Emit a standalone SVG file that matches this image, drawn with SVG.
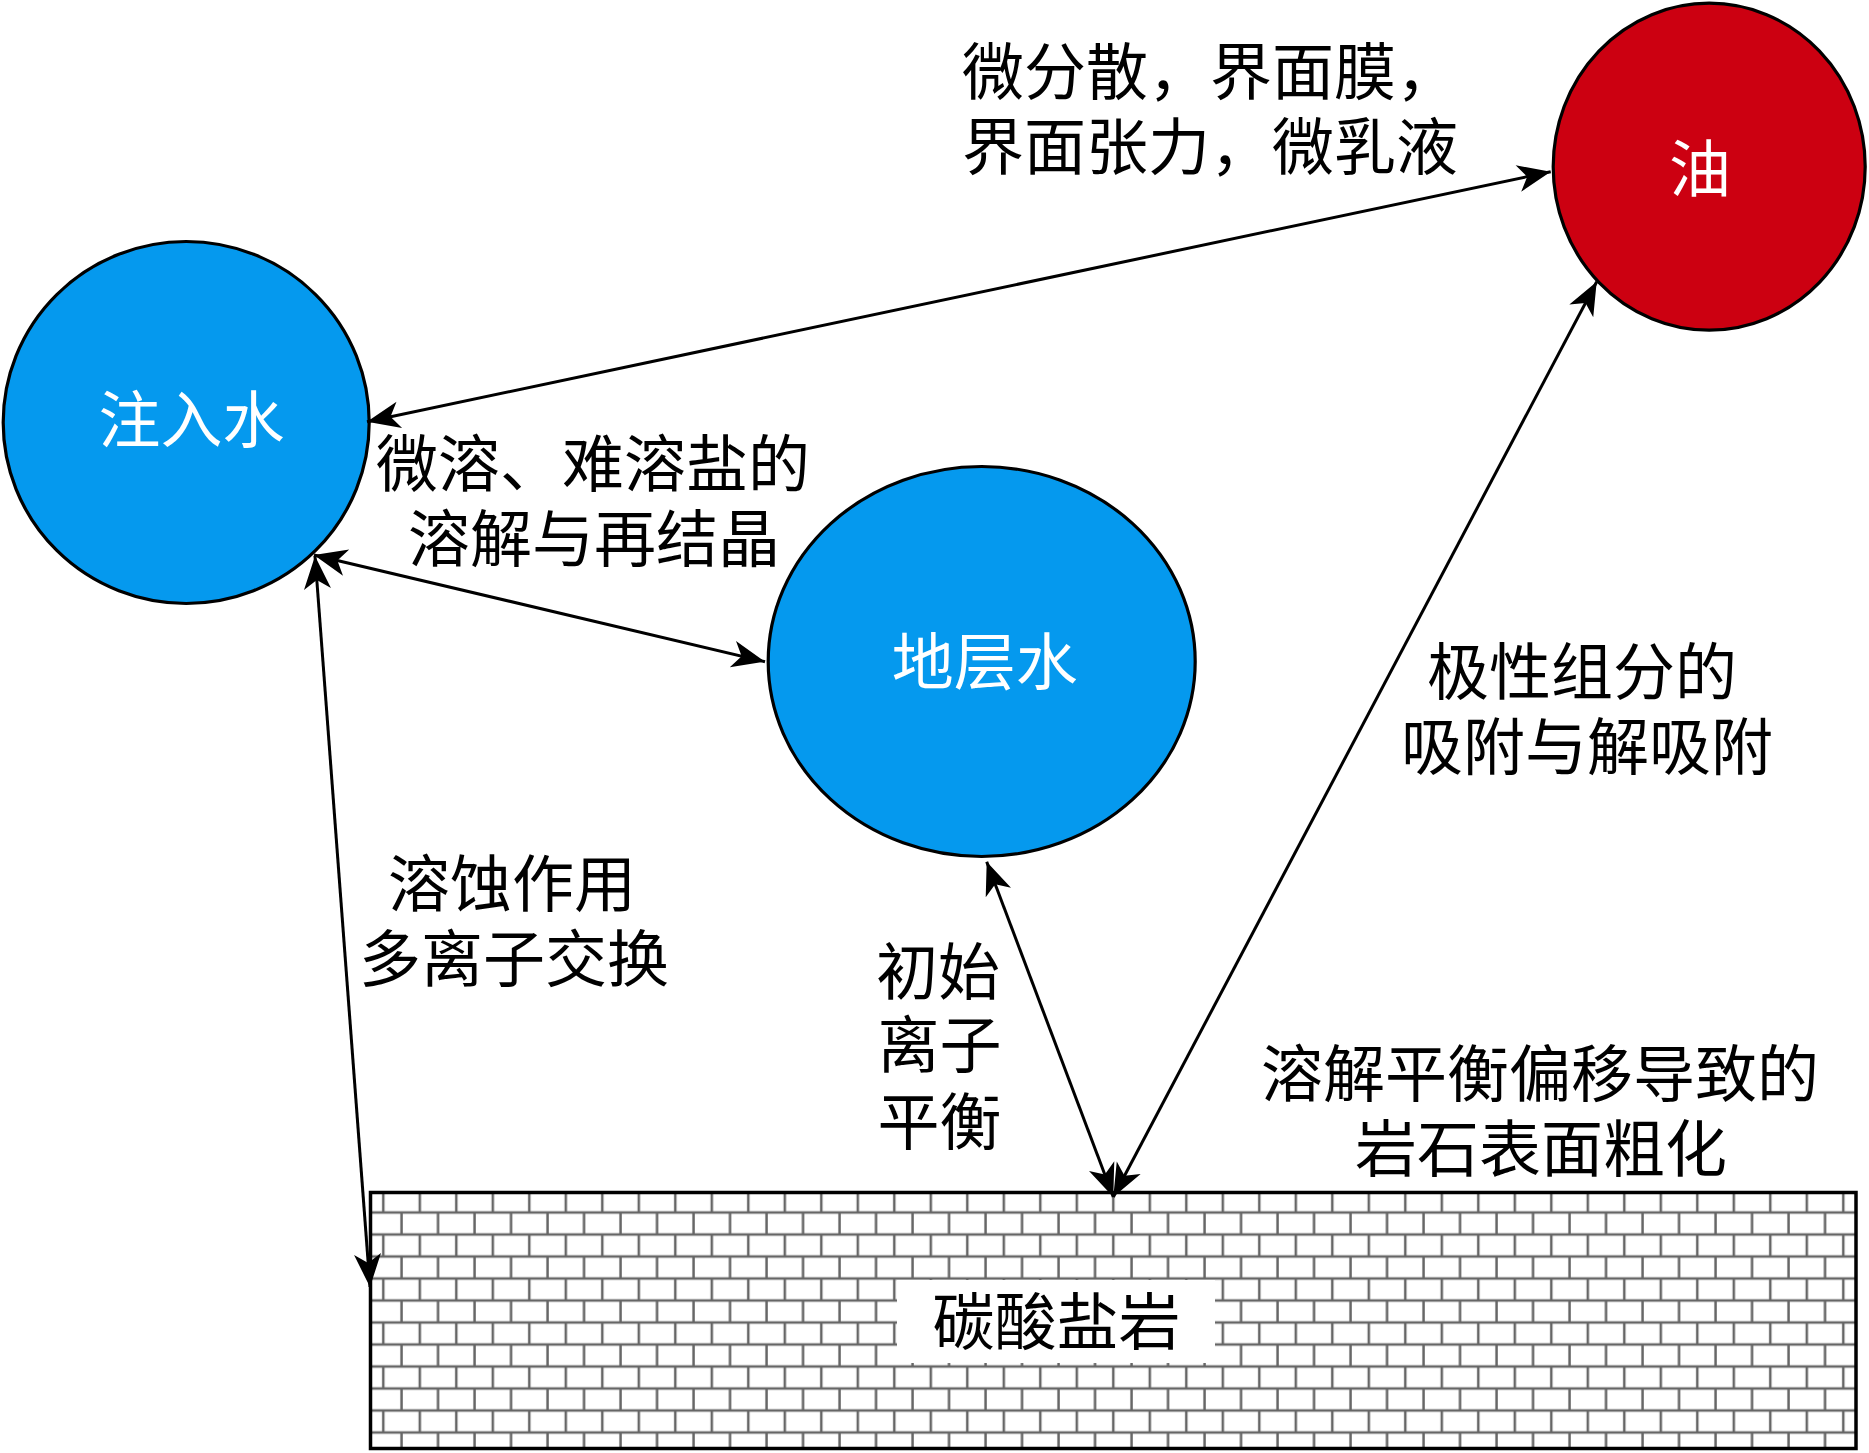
<svg xmlns="http://www.w3.org/2000/svg" width="1869" height="1453" viewBox="0 0 1869 1453">
  <style>
    .lbl { font-family: "Liberation Serif", "Noto Sans CJK SC", serif; font-size: 62px; fill: #000; text-anchor: middle; }
    .lbl-start { text-anchor: start; }
    .white { fill: #fff; }
    .node { stroke: #000; stroke-width: 3.2; }
    .water { fill: #0599ee; }
    .oil { fill: #cc0011; }
    .conn { stroke: #000; stroke-width: 3; fill: none; marker-start: url(#ah); marker-end: url(#ah); }
    .brick { stroke: #666; stroke-width: 2.5; fill: none; }
  </style>
  <defs>
    <marker id="ah" markerUnits="userSpaceOnUse" markerWidth="38" markerHeight="32" viewBox="-36 -16 38 32" refX="0" refY="0" orient="auto-start-reverse">
      <path d="M0,0 L-33,-13.5 L-24,0 L-33,13.5 Z" fill="#000"/>
    </marker>
    <pattern id="bricks" patternUnits="userSpaceOnUse" x="374.3" y="1179.5" width="36.5" height="44">
      <rect x="0" y="0" width="36.5" height="44" fill="#fff"/>
      <line class="brick" x1="0" y1="11" x2="36.5" y2="11"/>
      <line class="brick" x1="0" y1="33" x2="36.5" y2="33"/>
      <line class="brick" x1="9" y1="11" x2="9" y2="33"/>
      <line class="brick" x1="27.25" y1="33" x2="27.25" y2="44"/>
      <line class="brick" x1="27.25" y1="0" x2="27.25" y2="11"/>
    </pattern>
  </defs>

  <rect x="0" y="0" width="1869" height="1453" fill="#fff"/>

  <g id="rock">
    <rect x="370.5" y="1192.5" width="1485.5" height="256" fill="url(#bricks)" stroke="#000" stroke-width="3.5"/>
    <rect x="897" y="1280" width="318" height="83" fill="#fff"/>
    <text class="lbl" x="1056.5" y="1345">碳酸盐岩</text>
  </g>

  <g id="injected-water">
    <ellipse class="node water" cx="186.2" cy="422.5" rx="183" ry="181"/>
    <text class="lbl white" x="191.5" y="443">注入水</text>
  </g>

  <g id="formation-water">
    <ellipse class="node water" cx="981.7" cy="661.5" rx="213.5" ry="195"/>
    <text class="lbl white" x="984.7" y="685">地层水</text>
  </g>

  <g id="oil">
    <ellipse class="node oil" cx="1709.2" cy="166.7" rx="156" ry="163.5"/>
    <text class="lbl white" x="1700" y="192">油</text>
  </g>

  <g id="connectors">
    <line class="conn" x1="367" y1="421.7" x2="1550.7" y2="171.7"/>
    <line class="conn" x1="314" y1="555" x2="765" y2="661.7"/>
    <line class="conn" x1="315" y1="556" x2="370" y2="1287"/>
    <line class="conn" x1="986.7" y1="861.7" x2="1113.3" y2="1197"/>
    <line class="conn" x1="1596.7" y1="281.7" x2="1113.3" y2="1197"/>
  </g>

  <g id="labels">
    <text class="lbl lbl-start" x="962" y="95">微分散，界面膜，</text>
    <text class="lbl lbl-start" x="962" y="170">界面张力，微乳液</text>
    <text class="lbl" x="593" y="487">微溶、难溶盐的</text>
    <text class="lbl" x="594" y="562">溶解与再结晶</text>
    <text class="lbl" x="1582" y="695">极性组分的</text>
    <text class="lbl" x="1587" y="770">吸附与解吸附</text>
    <text class="lbl" x="512" y="907">溶蚀作用</text>
    <text class="lbl" x="514" y="982">多离子交换</text>
    <text class="lbl" x="938" y="995">初始</text>
    <text class="lbl" x="939.5" y="1068">离子</text>
    <text class="lbl" x="939.5" y="1145">平衡</text>
    <text class="lbl" x="1540" y="1097">溶解平衡偏移导致的</text>
    <text class="lbl" x="1541" y="1172">岩石表面粗化</text>
  </g>
</svg>
